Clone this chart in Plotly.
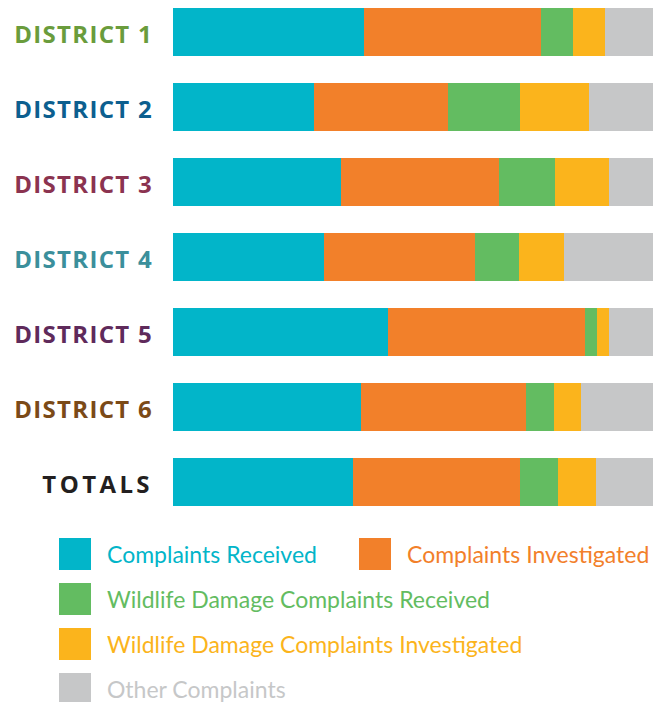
import plotly.graph_objects as go

categories = ["District 1", "District 2", "District 3", "District 4", "District 5", "District 6", "Totals"]
tick_labels = ["DISTRICT 1", "DISTRICT 2", "DISTRICT 3", "DISTRICT 4", "DISTRICT 5", "DISTRICT 6", "TOTALS"]
label_colors = ["#6a9c3c", "#0c5f8f", "#8b3350", "#3b8f9b", "#5f2a5b", "#7b4a17", "#231f20"]

series_names = ["Complaints Received", "Complaints Investigated", "Wildlife Damage Complaints Received",
                "Wildlife Damage Complaints Investigated", "Other Complaints"]
series_colors = ["#02b5c9", "#f2802a", "#63bc61", "#fbb41c", "#c6c7c8"]

complaints_received = [39.8, 29.3, 35.1, 31.4, 44.8, 39.2, 37.5]
complaints_investigated = [36.9, 27.9, 32.9, 31.5, 41.0, 34.3, 34.7]
wildlife_received = [6.7, 15.1, 11.5, 9.2, 2.6, 5.9, 8.0]
wildlife_investigated = [6.7, 14.4, 11.3, 9.3, 2.4, 5.6, 7.9]
other_complaints = [9.9, 13.3, 9.2, 18.6, 9.2, 15.0, 11.9]

series_values = [complaints_received, complaints_investigated, wildlife_received,
                 wildlife_investigated, other_complaints]

fig = go.Figure()
for name, color, vals in zip(series_names, series_colors, series_values):
    fig.add_trace(go.Bar(y=categories, x=vals, name=name, orientation="h",
                         marker=dict(color=color, line=dict(width=0)),
                         hoverinfo="skip", showlegend=False))

ticktext = []
for t, c in zip(tick_labels, label_colors):
    if t == "TOTALS":
        ticktext.append(f"<span style='color:{c};letter-spacing:3.4px'>{t}</span>")
    else:
        ticktext.append(f"<span style='color:{c};letter-spacing:1.3px'>{t}</span>")

# page has an 8px body margin; work in page pixels and convert
OFF = 8
W, H = 672, 702
L = 173 - OFF
R = W - (653 - OFF)
T = 0
plot_bottom = 512
B = H - plot_bottom
plot_h = plot_bottom - T
pitch = 75.0
r0 = -(32 - OFF) / pitch
r1 = r0 + plot_h / pitch

fig.update_layout(
    width=W, height=H,
    margin=dict(l=L, r=R, t=T, b=B),
    paper_bgcolor="white", plot_bgcolor="white",
    barmode="stack", bargap=0.36,
    xaxis=dict(range=[0, 100], visible=False, showgrid=False, zeroline=False, fixedrange=True),
    yaxis=dict(type="category", categoryorder="array", categoryarray=categories,
               range=[r1, r0], tickmode="array", tickvals=categories,
               ticktext=ticktext, showgrid=False, zeroline=False, showline=False, ticks="",
               ticklabelstandoff=19, ticklabelshift=-3,
               tickfont=dict(family="Open Sans", size=24, weight=700, color="#231f20"),
               fixedrange=True),
    showlegend=False,
)


def px_to_paper_x(px):
    return (px - OFF - L) / (W - L - R)


def px_to_paper_y(py):
    return (plot_bottom - (py - OFF)) / plot_h


legend_pos = [(59, 554), (359, 554), (59, 599), (59, 644), (59, 689)]
sw = 32
for (sx, cy), name, color in zip(legend_pos, series_names, series_colors):
    fig.add_shape(type="rect", xref="paper", yref="paper",
                  x0=px_to_paper_x(sx), x1=px_to_paper_x(sx + sw),
                  y0=px_to_paper_y(cy + sw / 2), y1=px_to_paper_y(cy - sw / 2),
                  fillcolor=color, line=dict(width=0))
    fig.add_annotation(xref="paper", yref="paper", x=px_to_paper_x(sx + 46), y=px_to_paper_y(cy),
                       xanchor="left", yanchor="middle", showarrow=False, text=name,
                       font=dict(family="Lato", size=23, color=color))

fig.write_html("out.html", config={"displayModeBar": False})
